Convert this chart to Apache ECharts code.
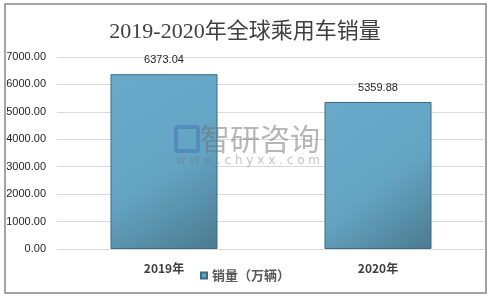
<!DOCTYPE html>
<html><head><meta charset="utf-8">
<script src="https://cdn.jsdelivr.net/npm/echarts@6/dist/echarts.min.js"></script>
<style>html,body{margin:0;padding:0;background:#fff}#c{width:490px;height:297px}</style>
</head><body><div id="c"></div>
<script>
var categories = ['2019年', '2020年'];
var seriesName = '销量（万辆）';
var values = [6373.04, 5359.88];
var chart = echarts.init(document.getElementById('c'));
var barColor = new echarts.graphic.LinearGradient(0, 0, 1, 1, [
  {offset: 0, color: '#69aacb'},
  {offset: 0.55, color: '#64a4c3'},
  {offset: 1, color: '#4b7b8e'}
]);
chart.setOption({
  animation: false,
  backgroundColor: '#fff',
  title: {
    text: '2019-2020年全球乘用车销量',
    left: 'center', top: 16,
    textStyle: {fontFamily: '"Liberation Serif", "Noto Sans CJK SC"', fontSize: 22, fontWeight: 'normal', color: '#404040'}
  },
  legend: {
    data: [seriesName], bottom: 10, left: 'center', icon: 'rect', itemWidth: 6, itemHeight: 6, itemGap: 3,
    textStyle: {fontSize: 13, fontWeight: 'bold', color: '#595959', fontFamily: '"Noto Sans CJK SC"'}
  },
  grid: {left: 57, right: 5, top: 57, bottom: 48, containLabel: false},
  xAxis: {
    type: 'category', data: categories,
    axisLine: {show: false}, axisTick: {show: false},
    axisLabel: {fontSize: 12, fontWeight: 'bold', color: '#404040', margin: 13, fontFamily: '"Noto Sans CJK SC"'}
  },
  yAxis: {
    type: 'value', min: 0, max: 7000, interval: 1000,
    axisLine: {show: false}, axisTick: {show: false},
    axisLabel: {fontSize: 11, color: '#262626', margin: 11, formatter: function(v){return v.toFixed(2);}, fontFamily: 'Arial, "Liberation Sans"'},
    splitLine: {lineStyle: {color: '#d9d9d9'}}
  },
  series: [{
    name: seriesName, type: 'bar', data: values, barWidth: '50%',
    itemStyle: {color: barColor, borderColor: '#3d6a80', borderWidth: 1},
    label: {show: true, position: 'top', distance: 9, fontSize: 11, color: '#262626', formatter: function(p){return p.value.toFixed(2);}, fontFamily: 'Arial, "Liberation Sans"'}
  }],
  graphic: [
    {type: 'rect', shape: {x: 5, y: 4, width: 481, height: 289}, style: {fill: 'none', stroke: '#868686', lineWidth: 1.5}, silent: true},
    {type: 'text', left: 200, top: 124, style: {text: '智研咨询', fontSize: 30, fill: 'rgba(110,110,110,0.5)', fontFamily: '"Noto Sans CJK SC"'}, z: 100},
    {type: 'text', left: 176, top: 155, style: {text: 'w w w . c h y x x . c o m', fontSize: 12, fill: 'rgba(120,120,120,0.45)', fontFamily: '"DejaVu Sans"'}, z: 100},
    {type: 'rect', shape: {x: 176, y: 127, width: 22, height: 24, r: 2}, style: {fill: 'none', stroke: 'rgba(70,120,180,0.55)', lineWidth: 4}, z: 100}
  ]
});
</script></body></html>
